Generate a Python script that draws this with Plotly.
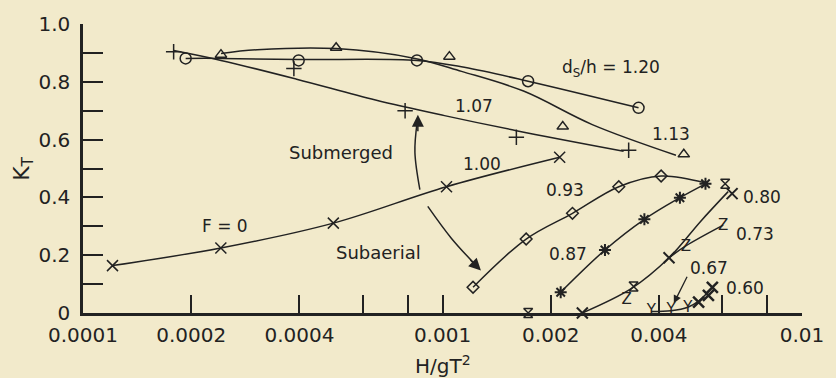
import math

import plotly.graph_objects as go

INK = "#222222"
PAPER = "#f2eacb"

# ---- submerged curves ----
# d_s/h = 1.20 (circles)
x_120 = [1.93e-4, 3.98e-4, 8.49e-4, 1.73e-3, 3.51e-3]
kt_120 = [0.881, 0.874, 0.874, 0.802, 0.710]
fit_x_120 = [1.93e-4, 2.42e-4, 3.98e-4, 8.49e-4, 1.15e-3, 1.73e-3, 3.51e-3]
fit_kt_120 = [0.881, 0.881, 0.877, 0.874, 0.850, 0.802, 0.710]

# d_s/h = 1.13 (triangles)
x_113 = [2.42e-4, 5.06e-4, 1.045e-3, 2.16e-3, 4.69e-3]
kt_113 = [0.894, 0.918, 0.887, 0.645, 0.549]
fit_x_113 = [2.42e-4, 3.05e-4, 5.06e-4, 8.38e-4, 1.13e-3, 1.68e-3, 2.61e-3, 4.46e-3]
fit_kt_113 = [0.898, 0.911, 0.915, 0.881, 0.836, 0.768, 0.652, 0.546]

# d_s/h = 1.07 (plus)
x_107 = [1.787e-4, 3.86e-4, 7.87e-4, 1.605e-3, 3.295e-3]
kt_107 = [0.904, 0.846, 0.700, 0.608, 0.563]
fit_x_107 = [1.787e-4, 2.42e-4, 3.93e-4, 6.51e-4, 1.013e-3, 1.605e-3, 3.19e-3]
fit_kt_107 = [0.908, 0.874, 0.809, 0.737, 0.683, 0.631, 0.560]

# d_s/h = 1.00, F = 0 (crosses)
x_100 = [1.208e-4, 2.418e-4, 4.97e-4, 1.026e-3, 2.118e-3]
kt_100 = [0.164, 0.225, 0.311, 0.437, 0.539]

# ---- subaerial curves ----
# 0.93 (diamonds)
x_093 = [1.216e-3, 1.709e-3, 2.299e-3, 3.093e-3, 4.057e-3]
kt_093 = [0.089, 0.256, 0.345, 0.437, 0.474]
fit_x_093 = [1.216e-3, 1.709e-3, 2.299e-3, 3.093e-3, 4.057e-3, 5.389e-3]
fit_kt_093 = [0.089, 0.256, 0.345, 0.437, 0.474, 0.450]

# 0.87 (asterisks)
x_087 = [2.132e-3, 2.831e-3, 3.644e-3, 4.575e-3, 5.389e-3]
kt_087 = [0.072, 0.218, 0.324, 0.399, 0.447]

# 0.80 (hourglass and crosses)
x_080_hg = [1.731e-3, 3.40e-3, 6.114e-3]
kt_080_hg = [0.0, 0.092, 0.447]
x_080_x = [2.449e-3, 4.267e-3, 6.391e-3]
kt_080_x = [0.0, 0.191, 0.413]
fit_x_080 = [2.449e-3, 3.357e-3, 4.267e-3, 5.222e-3, 6.231e-3]
fit_kt_080 = [0.0, 0.085, 0.191, 0.317, 0.420]

# 0.73 (Z)
x_073 = [3.253e-3, 4.751e-3, 6.037e-3]
kt_073 = [0.044, 0.229, 0.300]
fit_x_073 = [4.267e-3, 4.751e-3, 6.037e-3]
fit_kt_073 = [0.191, 0.232, 0.304]

# 0.67 (Y) and 0.60 (bold crosses)
x_067 = [3.808e-3, 4.322e-3, 4.812e-3]
kt_067 = [0.005, 0.010, 0.017]
x_060 = [5.157e-3, 5.491e-3, 5.632e-3]
kt_060 = [0.038, 0.061, 0.089]
fit_x_060 = [3.808e-3, 4.322e-3, 4.812e-3, 5.157e-3, 5.632e-3]
fit_kt_060 = [0.005, 0.008, 0.020, 0.041, 0.089]

x_ticks = [1e-4, 2e-4, 4e-4, 6e-4, 8e-4, 1e-3, 2e-3, 4e-3, 6e-3, 8e-3, 1e-2]
x_labels = ["0.0001", "0.0002", "0.0004", "", "", "0.001", "0.002", "0.004", "", "", "0.01"]
y_ticks = [0, 0.1, 0.2, 0.3, 0.4, 0.5, 0.6, 0.7, 0.8, 0.9, 1.0]
y_labels = ["0", "", "0.2", "", "0.4", "", "0.6", "", "0.8", "", "1.0"]

fig = go.Figure()


def curve(xs, ys):
    fig.add_trace(go.Scatter(x=xs, y=ys, mode="lines", line=dict(color=INK, width=1.5, shape="spline", smoothing=1.0),
                             hoverinfo="skip"))


def marks(xs, ys, symbol, size=10, width=1.5):
    fig.add_trace(go.Scatter(x=xs, y=ys, mode="markers", cliponaxis=False,
                             marker=dict(symbol=symbol, size=size, color=INK, line=dict(color=INK, width=width))))


def letters(xs, ys, ch):
    fig.add_trace(go.Scatter(x=xs, y=ys, mode="text", text=[ch] * len(xs), textposition="middle center",
                             cliponaxis=False, textfont=dict(family="DejaVu Sans", size=15, color=INK)))


curve(fit_x_120, fit_kt_120)
curve(fit_x_113, fit_kt_113)
curve(fit_x_107, fit_kt_107)
curve(x_100, kt_100)
curve(fit_x_093, fit_kt_093)
curve(x_087, kt_087)
curve(fit_x_080, fit_kt_080)
curve(fit_x_073, fit_kt_073)
curve(fit_x_060, fit_kt_060)

marks(x_120, kt_120, "circle-open", 11)
marks(x_113, kt_113, "triangle-up-open", 10)
marks(x_107, kt_107, "cross-thin-open", 11)
marks(x_100, kt_100, "x-thin-open", 11)
marks(x_093, kt_093, "diamond-open", 9)
marks(x_087, kt_087, "asterisk-open", 10, 2)
marks(x_080_hg, kt_080_hg, "hourglass-open", 9)
marks(x_080_x, kt_080_x, "x-thin-open", 11, 2)
letters(x_073, kt_073, "Z")
letters(x_067, kt_067, "Y")
marks(x_060, kt_060, "x-thin-open", 11, 2.5)

# curved arrows between the regime labels
arrow_up_x = [8.65e-4, 8.38e-4, 8.50e-4]
arrow_up_y = [0.427, 0.556, 0.660]
arrow_dn_x = [9.10e-4, 1.058e-3, 1.25e-3]
arrow_dn_y = [0.369, 0.259, 0.160]
curve(arrow_up_x, arrow_up_y)
curve(arrow_dn_x, arrow_dn_y)


def label(text, xv, yv, size=17):
    fig.add_annotation(x=math.log10(xv), y=yv, text=text, showarrow=False,
                       font=dict(family="DejaVu Sans", size=size, color=INK))


label("d<sub>S</sub>/h = 1.20", 2.95e-3, 0.846)
label("1.07", 1.225e-3, 0.717)
label("1.13", 4.33e-3, 0.618)
label("1.00", 1.29e-3, 0.515)
label("0.93", 2.19e-3, 0.427)
label("0.87", 2.23e-3, 0.205)
label("0.80", 7.76e-3, 0.403)
label("0.73", 7.38e-3, 0.273)
label("0.67", 5.50e-3, 0.157)
label("0.60", 6.93e-3, 0.085)
label("F = 0", 2.49e-4, 0.300)
label("Submerged", 5.22e-4, 0.556, 18)
label("Subaerial", 6.64e-4, 0.208, 18)

# arrow heads
fig.add_annotation(x=math.log10(8.54e-4), y=0.686, ax=0, ay=18, showarrow=True, text="",
                   arrowhead=2, arrowsize=1.6, arrowwidth=1.5, arrowcolor=INK)
fig.add_annotation(x=math.log10(1.279e-3), y=0.147, ax=-12, ay=-12, showarrow=True, text="",
                   arrowhead=2, arrowsize=1.6, arrowwidth=1.5, arrowcolor=INK)
fig.add_annotation(x=math.log10(4.40e-3), y=0.034, ax=14, ay=-28, showarrow=True, text="",
                   arrowhead=2, arrowsize=1.2, arrowwidth=1.3, arrowcolor=INK)

# axis titles
fig.add_annotation(xref="paper", yref="paper", x=0.5, y=-0.18, xanchor="center", yanchor="middle",
                   text="H/gT<sup>2</sup>", showarrow=False, font=dict(family="DejaVu Sans", size=20, color=INK))
fig.add_annotation(xref="paper", yref="paper", x=-0.083, y=0.50, xanchor="center", yanchor="middle",
                   text="K<sub>T</sub>", showarrow=False, textangle=-90,
                   font=dict(family="DejaVu Sans", size=22, color=INK))

fig.update_xaxes(type="log", range=[-4, -2], tickvals=x_ticks, ticktext=x_labels, ticks="inside", ticklen=18,
                 tickwidth=2, tickcolor=INK, showline=True, linewidth=2.5, linecolor=INK, showgrid=False,
                 zeroline=False, ticklabelstandoff=2, tickfont=dict(family="DejaVu Sans", size=20, color=INK))
fig.update_yaxes(range=[0, 1.0], tickvals=y_ticks, ticktext=y_labels, ticks="inside", ticklen=20, tickwidth=2,
                 tickcolor=INK, showline=True, linewidth=2.5, linecolor=INK, showgrid=False, zeroline=False,
                 ticklabelstandoff=6, tickfont=dict(family="DejaVu Sans", size=20, color=INK))
fig.update_layout(width=836, height=378, margin=dict(l=83, r=23, t=20, b=65), showlegend=False,
                  paper_bgcolor=PAPER, plot_bgcolor=PAPER)

# the page body has a default 8px margin; drop it so the figure fills the window
fig.write_html("out.html", config={"displayModeBar": False},
               post_script="document.body.style.margin='0';document.body.style.background='%s';" % PAPER)
